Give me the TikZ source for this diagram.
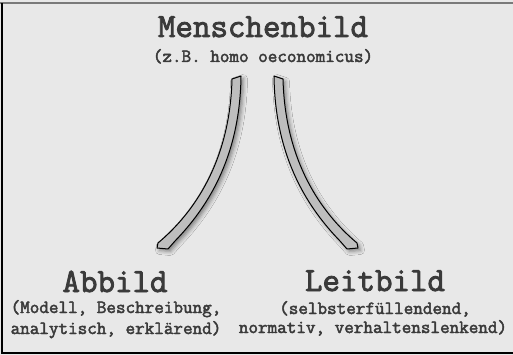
\documentclass[tikz,border=0pt]{standalone}
\usepackage{fontspec}
\newfontfamily\twfont{Latin Modern Mono}[FakeBold=2.5]
\usetikzlibrary{positioning, shadows.blur}
\definecolor{cbg}{HTML}{E8E8E8}
\definecolor{cink}{HTML}{3A3A3A}
\definecolor{cband}{HTML}{BEBEBE}
\definecolor{cframe}{HTML}{7A7A7A}
\tikzset{
  every picture/.style={x=1pt, y=-1pt},
  head/.style={font=\fontsize{34}{40}\selectfont\twfont, text=cink, inner sep=0pt, anchor=base},
  sub/.style={font=\fontsize{18.6}{22}\selectfont\twfont, text=cink, inner sep=0pt, anchor=base},
  band/.style={fill=cband, draw=black, line width=1pt, line join=round,
    blur shadow={shadow xshift=2.5pt, shadow yshift=-2.5pt, shadow blur radius=4pt, shadow opacity=45}},
}
\begin{document}
\begin{tikzpicture}
  \useasboundingbox (0,0) rectangle (513,355);
  % background and frame
  \fill[cbg] (0,0) rectangle (513,355);
  \fill[cframe] (0,2) rectangle (513,4.5);
  \fill[black] (1,3) rectangle (3,354);
  \fill[black] (1,352) rectangle (513,354);
  % texts
  \node[head] (mensch) at (263,37) {Menschenbild};
  \node[sub] (msub) at (263,62) {(z.B. homo oeconomicus)};
  \node[head] (abbild) at (115,292) {Abbild};
  \node[sub] (asub1) at (116,313) {(Modell, Beschreibung,};
  \node[sub] (asub2) at (116,334) {analytisch, erklärend)};
  \node[head] (leitbild) at (375,291) {Leitbild};
  \node[sub] (lsub1) at (375,314) {(selbsterfüllendend,};
  \node[sub] (lsub2) at (373,333) {normativ, verhaltenslenkend)};
  % the two bands
  \draw[band] (232,79) .. controls (230,160) and (195,212) .. (158,243)
    -- (157,248) -- (168,249) -- (175,241)
    .. controls (205,210) and (240,160) .. (241,76) -- cycle;
  \draw[band] (283,79) .. controls (285,160) and (320,212) .. (357,243)
    -- (358,248) -- (347,249) -- (340,241)
    .. controls (310,210) and (275,160) .. (274,76) -- cycle;
\end{tikzpicture}
\end{document}
